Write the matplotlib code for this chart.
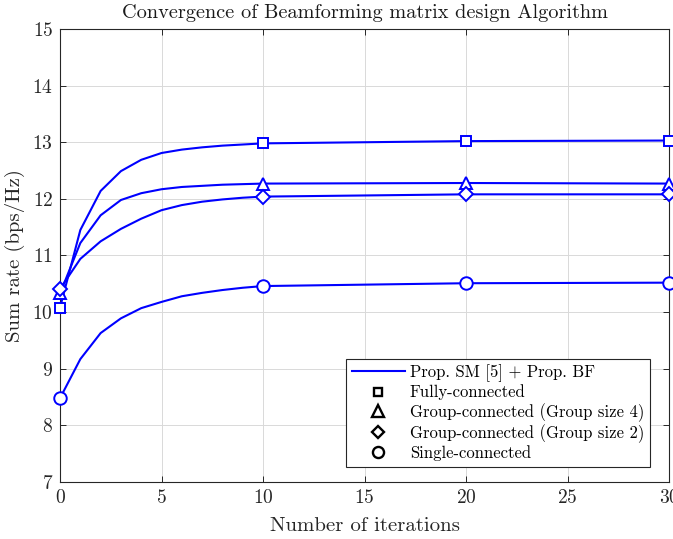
import matplotlib
matplotlib.use("Agg")
import matplotlib.pyplot as plt
from matplotlib.lines import Line2D

plt.rcParams['font.family'] = ['cmr10', 'DejaVu Serif']
plt.rcParams['axes.formatter.use_mathtext'] = True

# iterations 0..10, then 20 and 30
iters = [0, 1, 2, 3, 4, 5, 6, 7, 8, 9, 10, 20, 30]
fully = [10.08, 11.45, 12.14, 12.49, 12.69, 12.81, 12.87, 12.91, 12.94, 12.96, 12.98, 13.02, 13.03]
group4 = [10.33, 11.22, 11.71, 11.98, 12.10, 12.17, 12.21, 12.23, 12.25, 12.26, 12.27, 12.28, 12.27]
group2 = [10.41, 10.94, 11.25, 11.47, 11.65, 11.80, 11.89, 11.95, 11.99, 12.02, 12.04, 12.08, 12.08]
single = [8.48, 9.17, 9.63, 9.89, 10.07, 10.18, 10.28, 10.34, 10.39, 10.43, 10.46, 10.51, 10.52]

labels = ['Fully-connected', 'Group-connected (Group size 4)',
          'Group-connected (Group size 2)', 'Single-connected']
markers = ['s', '^', 'D', 'o']
msizes = [7, 9, 7, 9]
mark_idx = [0, 10, 11, 12]

fig = plt.figure(figsize=(6.73, 5.39), dpi=100)
ax = fig.add_axes([0.0892, 0.1058, 0.9049, 0.8404])

axcol = '0.15'
for series, m, ms in zip([fully, group4, group2, single], markers, msizes):
    ax.plot(iters, series, color='blue', lw=1.5, marker=m, ms=ms,
            markevery=mark_idx, mfc='white', mec='blue', mew=1.4,
            clip_on=False, zorder=3)

ax.set_xlim(0, 30)
ax.set_ylim(7, 15)
ax.set_xticks([0, 5, 10, 15, 20, 25, 30])
ax.set_yticks([7, 8, 9, 10, 11, 12, 13, 14, 15])
ax.grid(True, color='0.85', lw=0.7)
ax.set_axisbelow(True)
ax.tick_params(direction='in', length=4, width=0.7, colors=axcol,
               labelsize=14, top=True, right=True, pad=5)
for lbl in ax.get_xticklabels() + ax.get_yticklabels():
    lbl.set_color('0.15')
for s in ax.spines.values():
    s.set_color(axcol)
    s.set_linewidth(0.8)

ax.set_xlabel('Number of iterations', fontsize=15, color='0.15', labelpad=7)
ax.set_ylabel('Sum rate (bps/Hz)', fontsize=15, color='0.15', labelpad=5)
ax.set_title('Convergence of Beamforming matrix design Algorithm',
             fontsize=14.6, color='0.1', pad=8)

handles = [Line2D([], [], color='blue', lw=1.5)]
for m, ms in zip(markers, [6, 8, 6, 8]):
    handles.append(Line2D([], [], ls='none', marker=m, ms=ms,
                          mfc='white', mec='black', mew=1.7))
leg = ax.legend(handles, ['Prop. SM [5] + Prop. BF'] + labels,
                loc='lower right', bbox_to_anchor=(0.969, 0.033),
                fontsize=12, handlelength=3.2, handletextpad=0.3,
                labelspacing=0.15, borderpad=0.35, borderaxespad=0,
                fancybox=False, framealpha=1, edgecolor='0.15')
leg.get_frame().set_linewidth(0.8)

fig.savefig('out.png', dpi=100)
